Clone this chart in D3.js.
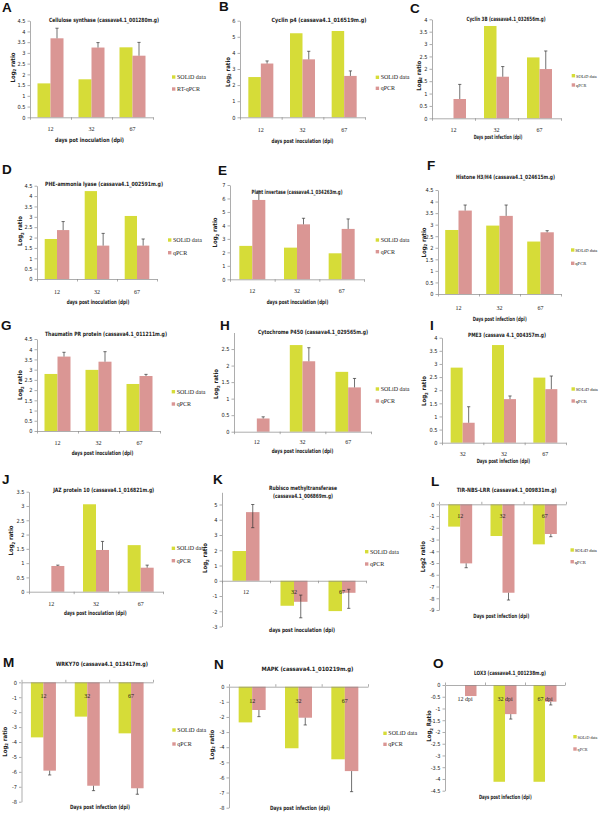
<!DOCTYPE html>
<html><head><meta charset="utf-8">
<script src="https://cdn.jsdelivr.net/npm/d3@7"></script>
<style>body{margin:0;background:#fff}svg{display:block}</style>
</head><body><svg id="c" width="600" height="814"></svg>
<script>
// ---------- DATA ----------
const cats = ["12","32","67"];
const catsI = ["32","32","67"];
const catsO = ["12 dpi","32 dpi","67 dpi"];
const seriesNames = ["SOLiD data","qPCR"];
const seriesNamesA = ["SOLiD data","RT-qPCR"];

const aSolid=[1.58,1.77,3.26], aQpcr=[3.68,3.25,2.87], aErr=[0.47,0.23,0.62];
const bSolid=[2.5,5.22,5.36],  bQpcr=[3.34,3.6,2.57],  bErr=[0.16,0.5,0.31];
const cSolid=[null,3.73,2.46], cQpcr=[0.78,1.68,1.99], cErr=[0.59,0.41,0.73];
const dSolid=[1.93,4.24,3.04], dQpcr=[2.36,1.61,1.61], dErr=[0.41,0.59,0.32];
const eSolid=[2.48,2.35,1.93], eQpcr=[5.89,4.08,3.74], eErr=[0.67,0.45,0.74];
const fSolid=[2.77,2.96,2.27], fQpcr=[3.61,3.38,2.67], fErr=[0.24,0.47,0.07];
const gSolid=[2.79,2.99,2.3],  gQpcr=[3.64,3.39,2.69], gErr=[0.21,0.49,0.08];
const hSolid=[null,2.62,1.81], hQpcr=[0.4,2.13,1.34],  hErr=[0.05,0.41,0.27];
const iSolid=[2.86,3.72,2.48], iQpcr=[0.76,1.66,2.04], iErr=[0.61,0.12,0.5];
const jSolid=[null,3.06,1.63], jQpcr=[0.9,1.46,0.84],  jErr=[0.03,0.3,0.09];
const kSolid=[1.95,-1.64,-1.99], kQpcr=[4.5,-1.38,-0.79], kErr=[0.5,1.05,1.02], kErrInner=[1.02,0.44,0.23];
const lSolid=[-1.9,-2.7,-3.41], lQpcr=[-5.03,-7.53,-2.53], lErr=[0.37,0.62,0.23];
const mSolid=[-3.69,-2.3,-3.42], mQpcr=[-5.92,-6.93,-7.1], mErr=[0.29,0.33,0.4];
const nSolid=[-2.36,-4.07,-4.8], nQpcr=[-1.54,-2.05,-5.58], nErr=[0.44,0.48,1.36];
const oSolid=[null,-4.12,-4.12], oQpcr=[-0.47,-1.24,-0.71], oErr=[0,0.21,0.14];

// ---------- LAYOUT ----------
const COL1="#d6dc38", COL2="#da9694", AX="#8a8a8a";
const SANS="'Liberation Sans Narrow','DejaVu Sans Condensed','Liberation Sans',sans-serif";
const SERIF="'Liberation Serif','DejaVu Serif',serif";
const LOG2=["Log","2"," ratio"];

const panels=[
 {id:"A",cats:cats,names:seriesNamesA,solid:aSolid,qpcr:aQpcr,err:aErr,
  L:{lx:2,ly:11.5,title:["Cellulose synthase (cassava4.1_001280m.g)"],tx:104,ty:[21.5],tw:[110],
  x0:30,x1:153,barW:13,dom:[0,4.5],px:[117.3,20.7],step:0.5,catY:129,
  xt:"days pot inoculation (dpi)",xtx:89.5,xty:142,xtw:69,yl:LOG2,ylx:12.5,yly:67.5,legX:172,legY:[77,89]}},
 {id:"B",cats:cats,names:seriesNames,solid:bSolid,qpcr:bQpcr,err:bErr,
  L:{lx:219,ly:11,title:["Cyclin p4 (cassava4.1_016519m.g)"],tx:319,ty:[22],tw:[95],
  x0:240,x1:365,barW:12.5,dom:[0,6],px:[117.3,20.7],step:1,catY:129.5,
  xt:"days post inoculation (dpi)",xtx:302.5,xty:142.5,xtw:62,yl:LOG2,ylx:227.5,yly:72,legX:375.7,legY:[77.3,88.3]}},
 {id:"C",cats:cats,names:seriesNames,solid:cSolid,qpcr:cQpcr,err:cErr,
  L:{lx:410,ly:13,title:["Cyclin 3B (cassava4.1_032656m.g)"],tx:506,ty:[20.5],tw:[79],
  x0:432,x1:561,barW:12.5,dom:[0,4],px:[118.3,19.3],step:0.5,catY:130.3,
  xt:"Days post infection (dpi)",xtx:498,xty:138.5,xtw:48.7,yl:LOG2,ylx:418.7,yly:75.7,legX:571.7,legY:[75.7,85],legF:4.3}},
 {id:"D",cats:cats,names:seriesNames,solid:dSolid,qpcr:dQpcr,err:dErr,
  L:{lx:2,ly:174,title:["PHE-ammonia lyase (cassava4.1_002591m.g)"],tx:104,ty:[186],tw:[118],
  x0:37,x1:157,barW:12.3,dom:[0,4.5],px:[279,185.7],step:0.5,catY:292,
  xt:"days post inoculation (dpi)",xtx:98,xty:303.5,xtw:62.6,yl:LOG2,ylx:20,yly:231,legX:168,legY:[240,252.7]}},
 {id:"E",cats:cats,names:seriesNames,solid:eSolid,qpcr:eQpcr,err:eErr,
  L:{lx:218,ly:175,title:["Plant invertase (cassava4.1_034263m.g)"],tx:297,ty:[193.5],tw:[91],
  x0:230,x1:364,barW:13,dom:[0,7],px:[279.3,185],step:1,catY:291.3,
  xt:"days post inoculation (dpi)",xtx:297.5,xty:303.5,xtw:61.6,yl:LOG2,ylx:215,yly:232.5,legX:375.7,legY:[240,251.7]}},
 {id:"F",cats:cats,names:seriesNames,solid:fSolid,qpcr:fQpcr,err:fErr,
  L:{lx:427,ly:170,title:["Histone H3/H4 (cassava4.1_024615m.g)"],tx:505.5,ty:[178.5],tw:[99],
  x0:438,x1:561,barW:13.3,dom:[0,4.5],px:[294,190],step:0.5,catY:307.7,
  xt:"Days post infection (dpi)",xtx:499.7,xty:321,xtw:54,yl:LOG2,ylx:423.5,yly:242.5,legX:571,legY:[250,263.3],legF:4.6}},
 {id:"G",cats:cats,names:seriesNames,solid:gSolid,qpcr:gQpcr,err:gErr,
  L:{lx:1,ly:330,title:["Thaumatin PR protein (cassava4.1_011211m.g)"],tx:106,ty:[336],tw:[122],
  x0:37,x1:160,barW:13,dom:[0,4.5],px:[431,339],step:0.5,catY:443,
  xt:"days post inoculation (dpi)",xtx:102.5,xty:455,xtw:61.6,yl:LOG2,ylx:20,yly:385,legX:171.7,legY:[391.7,404]}},
 {id:"H",cats:cats,names:seriesNames,solid:hSolid,qpcr:hQpcr,err:hErr,
  L:{lx:220,ly:330,title:["Cytochrome P450 (cassava4.1_029565m.g)"],tx:313,ty:[334],tw:[110],
  x0:234,x1:371,barW:12.7,dom:[0,3],px:[431.7,332.5],tickMax:2.5,step:0.5,catY:442,
  xt:"days post inoculation (dpi)",xtx:302.5,xty:453,xtw:61.6,yl:LOG2,ylx:216,yly:384,legX:375.7,legY:[389,401]}},
 {id:"I",cats:catsI,names:seriesNames,solid:iSolid,qpcr:iQpcr,err:iErr,
  L:{lx:430,ly:330,title:["PME3 (cassava 4.1_004357m.g)"],tx:507,ty:[337],tw:[78],
  x0:442,x1:566,barW:12,dom:[0,4],px:[442.7,337.7],step:0.5,catY:454.3,
  xt:"Days post infection (dpi)",xtx:503.3,xty:462.5,xtw:53.3,yl:LOG2,ylx:424,yly:391,legX:571.5,legY:[389,401],legF:4.6}},
 {id:"J",cats:cats,names:seriesNames,solid:jSolid,qpcr:jQpcr,err:jErr,
  L:{lx:2,ly:484,title:["JAZ protein  10 (cassava4.1_016821m.g)"],tx:103.7,ty:[492],tw:[101],
  x0:29,x1:163,barW:13,dom:[0,3.5],px:[591.7,491.7],step:0.5,catY:604.3,
  xt:"days post inoculation (dpi)",xtx:95.3,xty:615,xtw:62.7,yl:LOG2,ylx:11,yly:540.5,legX:171.7,legY:[548.3,560.7]}},
 {id:"K",cats:cats,names:seriesNames,solid:kSolid,qpcr:kQpcr,err:kErr,errInner:kErrInner,
  L:{lx:213,ly:484,title:["Rubisco methyltransferase","(cassava4.1_006869m.g)"],tx:303,ty:[489.5,497.5],tw:[68,60],
  x0:222,x1:366,barW:13.5,dom:[-3,5.8],px:[626.5,492.3],tickMax:5,step:1,catY:591.5,
  xt:"days post inoculation (dpi)",xtx:302,xty:632,xtw:66,yl:LOG2,ylx:205,yly:558,legX:365,legY:[551.7,564]}},
 {id:"L",cats:cats,names:seriesNames,solid:lSolid,qpcr:lQpcr,err:lErr,
  L:{lx:431,ly:485.5,title:["TIR-NBS-LRR (cassava4.1_009831m.g)"],tx:506.7,ty:[492],tw:[100],
  x0:439,x1:566,barW:12,dom:[-9,0],px:[610,504.3],step:1,catY:516.3,top:true,
  xt:"Days post infection (dpi)",xtx:501.3,xty:617.5,xtw:56,yl:["Log2 ratio"],ylx:423,yly:556.7,legX:570.5,legY:[550,561.7],legF:4.6}},
 {id:"M",cats:cats,names:seriesNames,solid:mSolid,qpcr:mQpcr,err:mErr,
  L:{lx:3,ly:667,title:["WRKY70  (cassava4.1_013417m.g)"],tx:102,ty:[666],tw:[92],
  x0:21.5,x1:153,barW:12.5,dom:[-8,0],px:[801.7,682.3],step:1,catY:696.3,top:true,
  xt:"Days post infection (dpi)",xtx:100,xty:809,xtw:60,yl:LOG2,ylx:4.5,yly:741.7,legX:172.3,legY:[730,744]}},
 {id:"N",cats:cats,names:seriesNames,solid:nSolid,qpcr:nQpcr,err:nErr,
  L:{lx:214,ly:669,title:["MAPK (cassava4.1_010219m.g)"],tx:307.5,ty:[671],tw:[92],
  x0:229,x1:368,barW:13.5,dom:[-8,0],px:[807.7,686.7],step:1,catY:701,top:true,
  xt:"Days post infection (dpi)",xtx:300,xty:810,xtw:60,yl:LOG2,ylx:211.5,yly:744.7,legX:383.3,legY:[733.3,744.3]}},
 {id:"O",cats:catsO,names:seriesNames,solid:oSolid,qpcr:oQpcr,err:oErr,
  L:{lx:433,ly:668,title:["LOX3 (cassava4.1_001238m.g)"],tx:510,ty:[675],tw:[72],
  x0:445,x1:565,barW:11.5,dom:[-4.5,0],px:[790.7,685],step:0.5,catY:698.7,top:true,
  xt:"Days post infection (dpi)",xtx:505.3,xty:798.5,xtw:52.7,yl:["Log","2"," Ratio"],ylx:429,yly:726,legX:573.3,legY:[736.7,749],legF:4.1}}
];

// ---------- DRAW ----------
const svg=d3.select("#c");
const fmt=v=>String(+v.toFixed(1)).replace("\u2212","-");

function drawPanel(p){
  const L=p.L, g=svg.append("g");
  const x=d3.scaleBand().domain(d3.range(p.cats.length)).range([L.x0,L.x1]);
  const y=d3.scaleLinear().domain(L.dom).range(L.px);
  const sub=i=>{const c=x(i)+x.bandwidth()/2;return d3.scaleBand().domain([0,1]).range([c-L.barW,c+L.barW]);};
  const series=[{v:p.solid,c:COL1},{v:p.qpcr,c:COL2}];
  // bars
  series.forEach((s,si)=>{
    g.selectAll(null).data(s.v.map((v,i)=>({v,i})).filter(d=>d.v!==null)).enter().append("rect")
      .attr("x",d=>sub(d.i)(si)).attr("width",d=>sub(d.i).bandwidth())
      .attr("y",d=>Math.min(y(d.v),y(0))).attr("height",d=>Math.abs(y(d.v)-y(0)))
      .attr("fill",s.c);
  });
  // error bars
  p.qpcr.forEach((v,i)=>{
    const cx=sub(i)(1)+sub(i).bandwidth()/2, sgn=v>=0?1:-1;
    const ends=[];
    if(p.err[i]>0) ends.push(v+sgn*p.err[i]);
    if(p.errInner) ends.push(v-sgn*p.errInner[i]);
    ends.forEach(e=>{
      g.append("line").attr("x1",cx).attr("x2",cx).attr("y1",y(v)).attr("y2",y(e)).attr("stroke","#333").attr("stroke-width",0.7);
      g.append("line").attr("x1",cx-1.6).attr("x2",cx+1.6).attr("y1",y(e)).attr("y2",y(e)).attr("stroke","#333").attr("stroke-width",0.7);
    });
  });
  // y axis
  const tmax=L.tickMax!==undefined?L.tickMax:L.dom[1];
  const tv=d3.range(L.dom[0],tmax+L.step/2,L.step);
  const ya=g.append("g").attr("transform",`translate(${L.x0},0)`)
    .call(d3.axisLeft(y).tickValues(tv).tickSize(2.5).tickSizeOuter(0).tickPadding(2).tickFormat(fmt));
  ya.selectAll("path,line").attr("stroke",AX).attr("stroke-width",0.7);
  ya.selectAll("text").attr("font-family",SANS).attr("font-size",5.6).attr("fill","#222");
  // x axis line at zero with boundary ticks
  const xb=d3.scaleLinear().domain([0,p.cats.length]).range([L.x0,L.x1]);
  const xa=g.append("g").attr("transform",`translate(0,${y(0)})`)
    .call((L.top?d3.axisTop(xb):d3.axisBottom(xb)).tickValues(d3.range(0,p.cats.length+1)).tickSize(2.5).tickSizeOuter(0).tickFormat(""));
  xa.selectAll("path,line").attr("stroke",AX).attr("stroke-width",0.7);
  // category labels
  g.selectAll(null).data(p.cats).enter().append("text")
    .attr("x",(d,i)=>x(i)+x.bandwidth()/2).attr("y",L.catY+2)
    .attr("text-anchor","middle").attr("font-family",SERIF).attr("font-size",6).attr("fill","#222").text(d=>d);
  // title
  L.title.forEach((t,k)=>{
    g.append("text").attr("x",L.tx).attr("y",L.ty[k]).attr("text-anchor","middle")
      .attr("font-family",SANS).attr("font-weight","bold").attr("font-size",5.8).attr("fill","#222")
      .attr("textLength",L.tw[k]).attr("lengthAdjust","spacingAndGlyphs").text(t);
  });
  // x title
  g.append("text").attr("x",L.xtx).attr("y",L.xty).attr("text-anchor","middle")
    .attr("font-family",SANS).attr("font-weight","bold").attr("font-size",5.8).attr("fill","#222")
    .attr("textLength",L.xtw).attr("lengthAdjust","spacingAndGlyphs").text(L.xt);
  // y label
  const yt=g.append("text").attr("transform",`translate(${L.ylx+2},${L.yly}) rotate(-90)`)
    .attr("text-anchor","middle").attr("font-family",SANS).attr("font-weight","bold").attr("font-size",6).attr("fill","#222");
  L.yl.forEach((s,k)=>{
    const ts=yt.append("tspan").text(s);
    if(L.yl.length===3&&k===1) ts.attr("font-size",4.2).attr("dy",1.5);
    if(L.yl.length===3&&k===2) ts.attr("dy",-1.5);
  });
  // letter
  g.append("text").attr("x",L.lx).attr("y",L.ly).attr("font-family","'Liberation Sans',Arial,sans-serif")
    .attr("font-weight","bold").attr("font-size",13.5).attr("fill","#111").text(p.id);
  // legend
  p.names.forEach((n,k)=>{
    g.append("rect").attr("x",L.legX).attr("y",L.legY[k]-1.7).attr("width",3.4).attr("height",3.4).attr("fill",k?COL2:COL1);
    g.append("text").attr("x",L.legX+(L.legF?4.3:5)).attr("y",L.legY[k]+2).attr("font-family",SERIF)
      .attr("font-size",L.legF||6).attr("fill","#222").text(n);
  });
}
panels.forEach(drawPanel);
</script></body></html>
